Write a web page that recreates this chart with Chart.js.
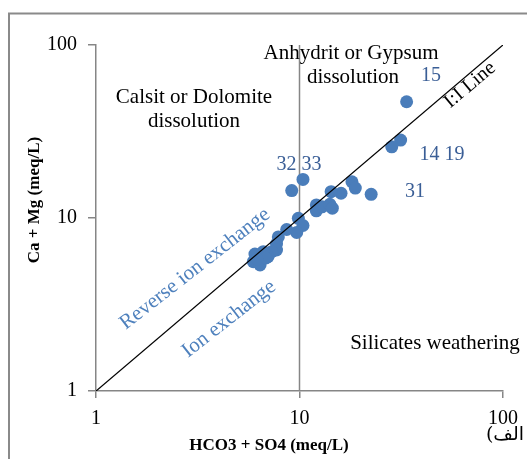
<!DOCTYPE html>
<html>
<head>
<meta charset="utf-8">
<script src="https://cdn.jsdelivr.net/npm/chart.js@4.4.1/dist/chart.umd.min.js"></script>
<style>
  html, body { margin: 0; padding: 0; background: #ffffff; }
  #wrap { width: 527px; height: 459px; position: relative; }
</style>
</head>
<body>
<div id="wrap"><canvas id="c" width="527" height="459"></canvas></div>
<script>
// Sample values (meq/L)
const hco3so4 = [33.6, 31.4, 28.4, 10.4, 9.16, 22.5, 18.1, 18.8, 16.0, 14.3, 12.1, 12.1, 12.9, 14.1, 14.5, 9.87, 10.4, 9.69, 8.65, 7.87, 7.71, 7.71, 7.30, 7.00, 6.64, 6.27, 6.04, 6.40, 5.93, 6.40, 6.84, 6.18];
const camg    = [47.0, 28.2, 25.8, 16.7, 14.4, 13.7, 16.2, 14.9, 13.9, 14.2, 11.9, 11.0, 11.6, 12.0, 11.4, 9.96, 9.05, 8.25, 8.58, 7.77, 7.07, 6.53, 6.39, 5.97, 6.39, 5.97, 6.19, 5.59, 5.59, 5.35, 5.87, 5.80];
const tickValues = [1, 10, 100];
const oneToOne = [1, 100];
const divideX = 10;

const points = hco3so4.map((x, i) => ({ x: x, y: camg[i] }));

const SERIF = '"Liberation Serif", "Times New Roman", serif';
const GRAY = '#868686';

const annotations = {
  id: 'annotations',
  beforeDraw(chart) {
    const ctx = chart.ctx;
    ctx.save();
    ctx.fillStyle = '#ffffff';
    ctx.fillRect(0, 0, chart.width, chart.height);
    ctx.strokeStyle = '#8a8a8a';
    ctx.lineWidth = 2;
    ctx.strokeRect(9, 13.5, 700, 700);
    ctx.restore();
  },
  afterDraw(chart) {
    const ctx = chart.ctx;
    ctx.save();
    ctx.textBaseline = 'middle';
    ctx.textAlign = 'center';
    function txt(s, x, y, font, color, rot) {
      ctx.save();
      ctx.translate(x, y);
      if (rot) ctx.rotate(rot * Math.PI / 180);
      ctx.font = font;
      ctx.fillStyle = color;
      ctx.fillText(s, 0, 0);
      ctx.restore();
    }
    const f = '21px ' + SERIF;
    txt('Anhydrit or Gypsum', 351, 53, f, '#000');
    txt('dissolution', 353, 77, f, '#000');
    txt('Calsit or Dolomite', 194, 97, f, '#000');
    txt('dissolution', 194, 121, f, '#000');
    txt('Silicates weathering', 435, 343, f, '#000');
    const nb = '#3A5E96';
    txt('15', 431, 76, '20px ' + SERIF, nb);
    txt('32 33', 299, 165, '20px ' + SERIF, nb);
    txt('14 19', 442, 155, '20px ' + SERIF, nb);
    txt('31', 415, 192, '20px ' + SERIF, nb);
    txt('Reverse ion exchange', 195, 269, f, '#4F81BD', -38);
    txt('Ion exchange', 229, 319, f, '#4F81BD', -38);
    txt('I:I Line', 470, 85, '20px ' + SERIF, '#000', -40);
    txt('Ca + Mg (meq/L)', 35, 200, 'bold 17px ' + SERIF, '#000', -90);
    txt('HCO3 + SO4 (meq/L)', 269, 446, 'bold 17px ' + SERIF, '#000');
    txt('(الف', 505, 435, '19px "DejaVu Serif", "DejaVu Sans", serif', '#000');
    ctx.restore();
  }
};

new Chart(document.getElementById('c'), {
  type: 'scatter',
  data: {
    datasets: [
      {
        label: '1:1',
        data: oneToOne.map(v => ({ x: v, y: v })),
        showLine: true,
        borderColor: '#000000',
        borderWidth: 1.3,
        pointRadius: 0,
        fill: false
      },
      {
        label: 'samples',
        data: points,
        backgroundColor: '#4A7DBA',
        borderColor: '#4A7DBA',
        borderWidth: 0,
        pointRadius: 6.5,
        pointHoverRadius: 6.5
      },
      {
        label: 'divider',
        data: [{ x: divideX, y: 1 }, { x: divideX, y: 100 }],
        showLine: true,
        borderColor: GRAY,
        borderWidth: 1.5,
        pointRadius: 0,
        fill: false
      }
    ]
  },
  options: {
    responsive: false,
    animation: false,
    events: [],
    layout: { padding: { left: 0, right: 22, top: 45, bottom: 0 } },
    plugins: { legend: { display: false }, tooltip: { enabled: false } },
    scales: {
      x: {
        type: 'logarithmic',
        min: 1, max: 100,
        afterFit(s) { s.height = 68; },
        afterBuildTicks(s) { s.ticks = tickValues.map(v => ({ value: v, major: true })); },
        grid: { drawOnChartArea: false, drawTicks: true, tickLength: 7, color: GRAY, lineWidth: 1.5 },
        border: { display: true, color: GRAY, width: 1.5 },
        ticks: { padding: 9, color: '#000', font: { family: SERIF, size: 20 }, callback: v => String(v), maxRotation: 0 }
      },
      y: {
        type: 'logarithmic',
        min: 1, max: 100,
        afterFit(s) { s.width = 96; },
        afterBuildTicks(s) { s.ticks = tickValues.map(v => ({ value: v, major: true })); },
        grid: { drawOnChartArea: false, drawTicks: true, tickLength: 8, color: GRAY, lineWidth: 1.5 },
        border: { display: true, color: GRAY, width: 1.5 },
        ticks: { padding: 11, color: '#000', font: { family: SERIF, size: 20 }, callback: v => String(v) }
      }
    }
  },
  plugins: [annotations]
});
</script>
</body>
</html>
